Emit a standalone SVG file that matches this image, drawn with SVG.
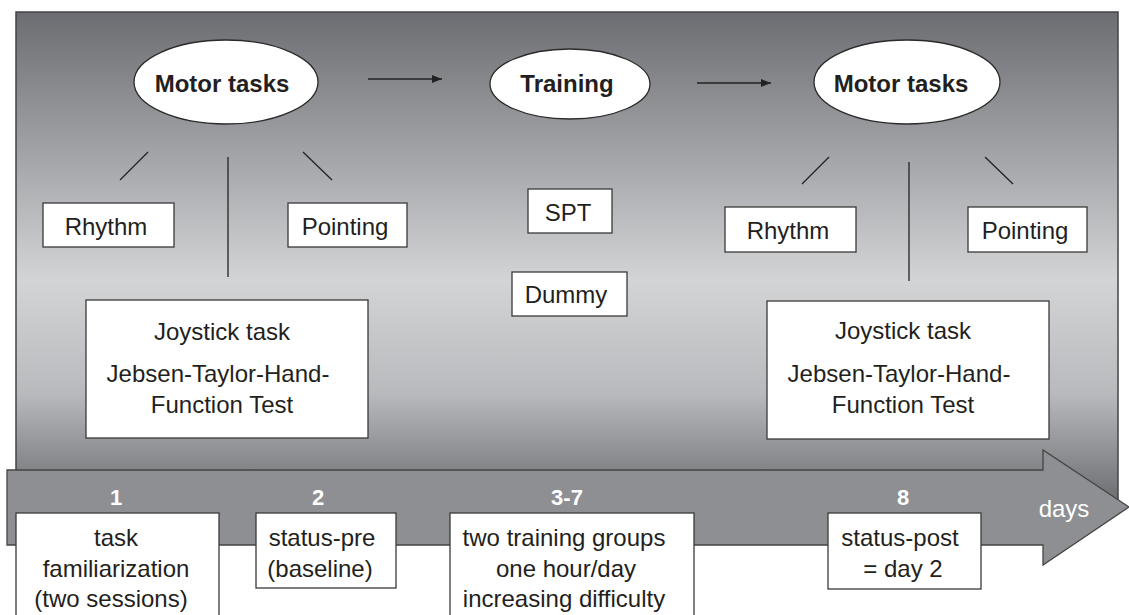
<svg xmlns="http://www.w3.org/2000/svg" width="1129" height="615" viewBox="0 0 1129 615">
<defs>
<linearGradient id="bg" x1="0" y1="0" x2="0" y2="1">
<stop offset="0" stop-color="#6c6d72"/>
<stop offset="0.55" stop-color="#d3d4d6"/>
<stop offset="0.78" stop-color="#b9babd"/>
<stop offset="1" stop-color="#6e6f73"/>
</linearGradient>
<marker id="ah" viewBox="0 0 10 8" refX="10" refY="4" markerWidth="10" markerHeight="8" markerUnits="userSpaceOnUse" orient="auto">
<path d="M0,0 L10,4 L0,8 Z" fill="#222"/>
</marker>
<style>
.box{fill:#fff;stroke:#3a3a3a;stroke-width:1.3}
.ell{fill:#fff;stroke:#2a2a2a;stroke-width:1.3}
.t{font-family:"Liberation Sans",Arial,sans-serif;font-size:24px;fill:#231f20;text-anchor:middle}
.b{font-family:"Liberation Sans",Arial,sans-serif;font-size:24px;font-weight:bold;fill:#231f20;text-anchor:middle}
.w{font-family:"Liberation Sans",Arial,sans-serif;font-size:22px;font-weight:bold;fill:#fff;text-anchor:middle}
.wd{font-family:"Liberation Sans",Arial,sans-serif;font-size:24px;fill:#fff;text-anchor:middle}
.ln{stroke:#222;stroke-width:1.3;fill:none}
</style>
</defs>
<g id="background">
<rect x="16" y="12" width="1102" height="488" fill="url(#bg)" stroke="#444" stroke-width="1.5"/>
</g>
<g id="timeline">
<polygon points="7,470 1043,470 1043,450 1129,507 1043,565 1043,545 7,545" fill="#8e8f93" stroke="#444" stroke-width="1.3"/>
<text class="w" x="116" y="505">1</text>
<text class="w" x="318" y="505">2</text>
<text class="w" x="567" y="505">3-7</text>
<text class="w" x="903" y="505">8</text>
<text class="wd" x="1064" y="517">days</text>
</g>
<g id="connectors">
<line class="ln" x1="368" y1="79" x2="442" y2="79" marker-end="url(#ah)"/>
<line class="ln" x1="697" y1="83" x2="771" y2="83" marker-end="url(#ah)"/>
<line class="ln" x1="148" y1="152" x2="120" y2="180"/>
<line class="ln" x1="228" y1="157" x2="228" y2="277"/>
<line class="ln" x1="303" y1="152" x2="332" y2="180"/>
<line class="ln" x1="829" y1="157" x2="802" y2="184"/>
<line class="ln" x1="909" y1="162" x2="909" y2="281"/>
<line class="ln" x1="985" y1="157" x2="1013" y2="184"/>
</g>
<g id="motor-pre">
<ellipse class="ell" cx="226" cy="82" rx="92" ry="42"/>
<text class="b" x="222" y="92">Motor tasks</text>
</g>
<g id="training">
<ellipse class="ell" cx="570" cy="84" rx="80" ry="35"/>
<text class="b" x="567" y="92">Training</text>
</g>
<g id="motor-post">
<ellipse class="ell" cx="907" cy="82" rx="93" ry="42"/>
<text class="b" x="901" y="92">Motor tasks</text>
</g>
<g id="rhythm-pre">
<rect class="box" x="43" y="203" width="131" height="44"/>
<text class="t" x="106" y="235">Rhythm</text>
</g>
<g id="pointing-pre">
<rect class="box" x="288" y="203" width="119" height="44"/>
<text class="t" x="345" y="235">Pointing</text>
</g>
<g id="joystick-pre">
<rect class="box" x="86" y="300" width="282" height="138"/>
<text class="t" x="222" y="340">Joystick task</text>
<text class="t" x="218" y="382">Jebsen-Taylor-Hand-</text>
<text class="t" x="222" y="413">Function Test</text>
</g>
<g id="spt">
<rect class="box" x="528" y="189" width="84" height="44"/>
<text class="t" x="568" y="221">SPT</text>
</g>
<g id="dummy">
<rect class="box" x="512" y="272" width="115" height="44"/>
<text class="t" x="566" y="303">Dummy</text>
</g>
<g id="rhythm-post">
<rect class="box" x="725" y="207" width="131" height="45"/>
<text class="t" x="788" y="239">Rhythm</text>
</g>
<g id="pointing-post">
<rect class="box" x="968" y="207" width="119" height="45"/>
<text class="t" x="1025" y="239">Pointing</text>
</g>
<g id="joystick-post">
<rect class="box" x="767" y="301" width="282" height="138"/>
<text class="t" x="903" y="339">Joystick task</text>
<text class="t" x="899" y="382">Jebsen-Taylor-Hand-</text>
<text class="t" x="903" y="413">Function Test</text>
</g>
<g id="day1">
<rect class="box" x="16" y="513" width="203" height="110"/>
<text class="t" x="116" y="546">task</text>
<text class="t" x="116" y="577">familiarization</text>
<text class="t" x="111" y="607">(two sessions)</text>
</g>
<g id="day2">
<rect class="box" x="256" y="513" width="140" height="75"/>
<text class="t" x="322" y="546">status-pre</text>
<text class="t" x="320" y="577">(baseline)</text>
</g>
<g id="day3-7">
<rect class="box" x="450" y="513" width="244" height="110"/>
<text class="t" x="564" y="546">two training groups</text>
<text class="t" x="566" y="577">one hour/day</text>
<text class="t" x="564" y="607">increasing difficulty</text>
</g>
<g id="day8">
<rect class="box" x="828" y="513" width="153" height="76"/>
<text class="t" x="900" y="546">status-post</text>
<text class="t" x="903" y="577">= day 2</text>
</g>
</svg>
